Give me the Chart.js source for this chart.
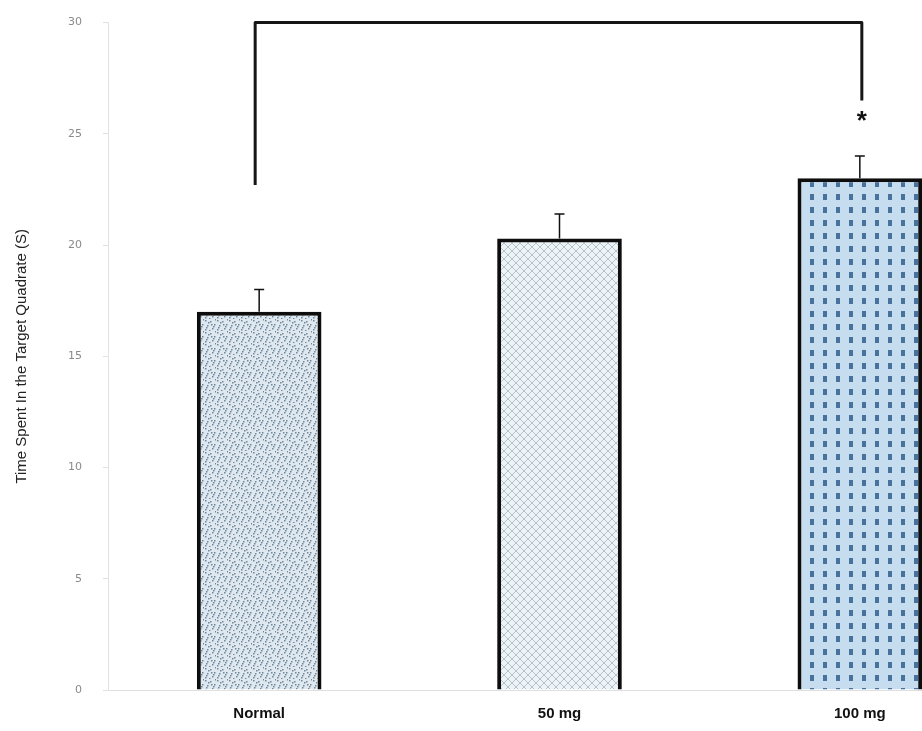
<!DOCTYPE html>
<html>
<head>
<meta charset="utf-8">
<script src="https://cdn.jsdelivr.net/npm/chart.js@4.4.1/dist/chart.umd.min.js"></script>
<style>
  html, body { margin: 0; padding: 0; background: #fff; overflow: hidden; }
  #wrap { position: relative; top: -5px; width: 1010px; height: 743px; }
</style>
</head>
<body>
<div id="wrap"><canvas id="chart"></canvas></div>
<script>
// data
const groups = ["Normal", "50 mg", "100 mg"];
const meanTime = [17.0, 20.3, 23.0];
const semTime = [1.0, 1.1, 1.0];
const yTicks = [0, 5, 10, 15, 20, 25, 30];
// significance bracket: top level, left/right leg ends (in seconds)
const bracketTop = 30;
const bracketLegs = [22.7, 26.5];
const starLevel = 25.8;

// fill patterns for the three bars
function makeTile(w, h, draw) {
  const c = document.createElement("canvas");
  c.width = w;
  c.height = h;
  draw(c.getContext("2d"));
  return document.getElementById("chart").getContext("2d").createPattern(c, "repeat");
}

const dotFill = makeTile(12, 12, (g) => {
  g.fillStyle = "#dfe8ef";
  g.fillRect(0, 0, 12, 12);
  g.fillStyle = "#6f879d";
  const dots = [[1, 1], [6, 2], [10, 5], [3, 6], [8, 9], [1, 10], [5, 11], [11, 0], [4, 3], [9, 7], [7, 5], [2, 8]];
  dots.forEach(([x, y]) => g.fillRect(x, y, 1.5, 1.5));
});

const hatchFill = makeTile(8, 8, (g) => {
  g.fillStyle = "#eef3f6";
  g.fillRect(0, 0, 8, 8);
  g.strokeStyle = "#b3c2cf";
  g.lineWidth = 1;
  g.beginPath();
  g.moveTo(0, 0); g.lineTo(8, 8);
  g.moveTo(8, 0); g.lineTo(0, 8);
  g.stroke();
});

const gridFill = makeTile(13, 13, (g) => {
  g.fillStyle = "#c6ddef";
  g.fillRect(0, 0, 13, 13);
  g.fillStyle = "#46729b";
  g.fillRect(4, 4, 4, 6);
});

// error bars, bracket and asterisk
const overlayPlugin = {
  id: "overlay",
  afterDatasetsDraw(chart) {
    const { ctx, scales } = chart;
    const x = scales.x, y = scales.y;
    const meta = chart.getDatasetMeta(0);

    ctx.save();
    ctx.strokeStyle = "#111";
    ctx.lineWidth = 1.5;
    meta.data.forEach((bar, i) => {
      const top = y.getPixelForValue(meanTime[i]);
      const hi = y.getPixelForValue(meanTime[i] + semTime[i]);
      ctx.beginPath();
      ctx.moveTo(bar.x, top);
      ctx.lineTo(bar.x, hi);
      ctx.moveTo(bar.x - 5, hi);
      ctx.lineTo(bar.x + 5, hi);
      ctx.stroke();
    });

    const xl = x.getPixelForValue(0) - 4;
    const xr = x.getPixelForValue(2) + 2;
    const yt = y.getPixelForValue(bracketTop);
    ctx.lineWidth = 3;
    ctx.lineJoin = "round";
    ctx.strokeStyle = "#161616";
    ctx.beginPath();
    ctx.moveTo(xl, y.getPixelForValue(bracketLegs[0]));
    ctx.lineTo(xl, yt);
    ctx.lineTo(xr, yt);
    ctx.lineTo(xr, y.getPixelForValue(bracketLegs[1]));
    ctx.stroke();

    ctx.fillStyle = "#111";
    ctx.font = "bold 26px 'Liberation Sans', Arial, sans-serif";
    ctx.textAlign = "center";
    ctx.textBaseline = "middle";
    ctx.fillText("*", xr, y.getPixelForValue(starLevel) + 6);
    ctx.restore();
  },
};

new Chart(document.getElementById("chart"), {
  type: "bar",
  data: {
    labels: groups,
    datasets: [
      {
        data: meanTime,
        backgroundColor: [dotFill, hatchFill, gridFill],
        borderColor: "#0d0d0d",
        borderWidth: 4,
        borderSkipped: "bottom",
        categoryPercentage: 1,
        barPercentage: 0.415,
      },
    ],
  },
  options: {
    responsive: true,
    maintainAspectRatio: false,
    animation: false,
    layout: { padding: { top: 7, left: 13, bottom: 0, right: 0 } },
    plugins: {
      legend: { display: false },
      tooltip: { enabled: false },
    },
    scales: {
      x: {
        grid: { display: false, drawTicks: false },
        border: { color: "#e0e0e0", width: 1 },
        ticks: {
          color: "#111",
          padding: 15,
          font: { family: "'Liberation Sans', Arial, sans-serif", size: 15, weight: "bold" },
        },
      },
      y: {
        min: 0,
        max: 30,
        afterBuildTicks(axis) {
          axis.ticks = yTicks.map((v) => ({ value: v }));
        },
        grid: { drawOnChartArea: false, color: "#e2e2e2", tickLength: 6 },
        border: { color: "#e2e2e2", width: 1 },
        ticks: {
          color: "#8a8a8a",
          padding: 21,
          font: { family: "'DejaVu Sans', sans-serif", size: 11 },
        },
        title: {
          display: true,
          text: "Time Spent In the Target Quadrate (S)",
          color: "#222",
          padding: { top: 0, bottom: 16 },
          font: { family: "'Liberation Sans', Arial, sans-serif", size: 15 },
        },
      },
    },
  },
  plugins: [overlayPlugin],
});
</script>
</body>
</html>
